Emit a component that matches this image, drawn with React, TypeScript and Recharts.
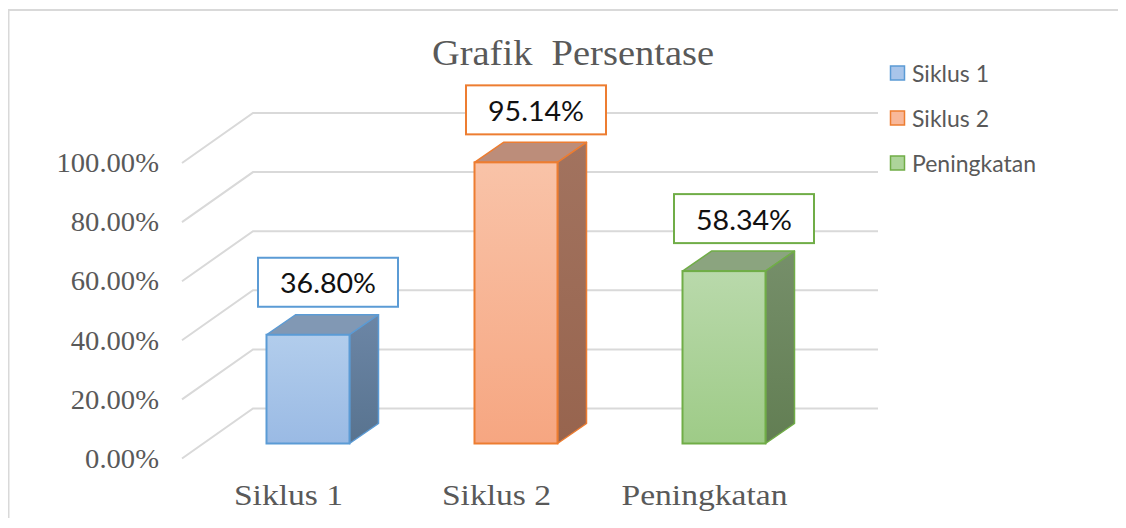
import { Bar, BarChart, CartesianGrid, XAxis, YAxis } from 'recharts'

const categories = ['Siklus 1', 'Siklus 2', 'Peningkatan']
const values = [36.8, 95.14, 58.34]
const yTicks = [0, 20, 40, 60, 80, 100]

const rows = categories.map((name, i) => ({ name, value: values[i] }))

// layout box kept inside the viewport; frame lines overflow to the page edge
const W = 1100
const H = 510
const DX = 29
const DY = -20
const SERIF = '"Liberation Serif", "Times New Roman", serif'
const SANS = 'Lato, "Noto Sans", sans-serif'
const GRAY = '#595959'

const palette = [
  { stroke: '#5b9bd5', front: ['#b2cdec', '#9abae4'], top: '#8198b4', side: ['#6c86a6', '#58738f'], key: '#a9c5ea' },
  { stroke: '#ed7d31', front: ['#f9c3a8', '#f6a681'], top: '#bc8d7a', side: ['#a2735f', '#97644e'], key: '#f8b89a' },
  { stroke: '#70ad47', front: ['#b9d9ab', '#9ecb87'], top: '#8ba47f', side: ['#768f6a', '#627e53'], key: '#add49a' },
]

function renderGridLine(props: any) {
  const y = props.y1
  return (
    <path
      key={`grid-${y}`}
      d={`M174 ${y + 15} L245 ${y - 35} L870 ${y - 35}`}
      fill="none"
      stroke="#d9d9d9"
      strokeWidth={2}
    />
  )
}

function renderValueTick(props: any) {
  const { y, payload } = props
  return (
    <text
      transform={`translate(151 ${y + 15}) scale(1.06 1)`}
      textAnchor="end"
      dominantBaseline="central"
      fontFamily={SERIF}
      fontSize={27}
      fill={GRAY}
    >
      {`${Number(payload.value).toFixed(2)}%`}
    </text>
  )
}

function renderCategoryTick(props: any) {
  const { x, payload } = props
  return (
    <text
      transform={`translate(${x - 19} 497) scale(1.12 1)`}
      textAnchor="middle"
      fontFamily={SERIF}
      fontSize={30}
      fill={GRAY}
    >
      {payload.value}
    </text>
  )
}

function renderBar3D(props: any) {
  const { x, y, width: w, height: h, payload } = props
  const i = categories.indexOf(payload.name)
  const c = palette[i]
  const cx = x + w / 2 + 20
  const boxW = 140
  const boxH = 49
  const boxY = y + DY - 8 - boxH
  return (
    <g>
      <defs>
        <linearGradient id={`front-${i}`} x1="0" y1="0" x2="0" y2="1">
          <stop offset="0%" stopColor={c.front[0]} />
          <stop offset="100%" stopColor={c.front[1]} />
        </linearGradient>
        <linearGradient id={`side-${i}`} x1="0" y1="0" x2="0" y2="1">
          <stop offset="0%" stopColor={c.side[0]} />
          <stop offset="100%" stopColor={c.side[1]} />
        </linearGradient>
      </defs>
      <path
        d={`M${x} ${y} L${x + DX} ${y + DY} L${x + w + DX} ${y + DY} L${x + w} ${y} Z`}
        fill={c.top}
        stroke={c.stroke}
        strokeWidth={1.5}
        strokeLinejoin="round"
      />
      <path
        d={`M${x + w} ${y} L${x + w + DX} ${y + DY} L${x + w + DX} ${y + h + DY} L${x + w} ${y + h} Z`}
        fill={`url(#side-${i})`}
        stroke={c.stroke}
        strokeWidth={1.5}
        strokeLinejoin="round"
      />
      <rect x={x} y={y} width={w} height={h} fill={`url(#front-${i})`} stroke={c.stroke} strokeWidth={2} />
      <rect x={cx - boxW / 2} y={boxY} width={boxW} height={boxH} fill="#fff" stroke={c.stroke} strokeWidth={2} />
      <text
        transform={`translate(${cx} ${boxY + boxH / 2 + 1}) scale(1.06 1)`}
        textAnchor="middle"
        dominantBaseline="central"
        fontFamily={SANS}
        fontSize={27}
        fill="#111"
      >
        {`${payload.value.toFixed(2)}%`}
      </text>
    </g>
  )
}

export default function App() {
  return (
    <div style={{ position: 'relative', width: W, height: H }}>
      <BarChart
        width={W}
        height={H}
        data={rows}
        margin={{ top: 140, right: W - 819.5, bottom: H - 435.5 - 50, left: 135.5 }}
        style={{ overflow: 'visible' }}
      >
        <CartesianGrid vertical={false} horizontal={renderGridLine} />
        <XAxis dataKey="name" axisLine={false} tickLine={false} height={50} tick={renderCategoryTick} />
        <YAxis
          domain={[0, 100]}
          ticks={yTicks}
          axisLine={false}
          tickLine={false}
          width={60}
          tick={renderValueTick}
        />
        <Bar dataKey="value" barSize={83} shape={renderBar3D} isAnimationActive={false} />
      </BarChart>

      <svg
        width={W}
        height={H}
        style={{ position: 'absolute', left: 0, top: 0, pointerEvents: 'none', overflow: 'visible' }}
      >
        <line x1={0.5} y1={2} x2={1118} y2={2} stroke="#d9d9d9" strokeWidth={2} />
        <line x1={0.5} y1={1} x2={0.5} y2={519} stroke="#d9d9d9" strokeWidth={2} />
        <text
          transform="translate(565 57) scale(1.1 1)"
          textAnchor="middle"
          fontFamily={SERIF}
          fontSize={35}
          fill={GRAY}
          style={{ whiteSpace: 'pre' }}
        >
          {'Grafik  Persentase'}
        </text>
        {categories.map((name, i) => {
          const cy = 65 + i * 45
          return (
            <g key={name}>
              <rect x={882.5} y={cy - 7} width={14} height={14} fill={palette[i].key} stroke={palette[i].stroke} strokeWidth={1.5} />
              <text x={904} y={cy} dominantBaseline="central" fontFamily={SANS} fontSize={23} fill={GRAY}>
                {name}
              </text>
            </g>
          )
        })}
      </svg>
    </div>
  )
}
